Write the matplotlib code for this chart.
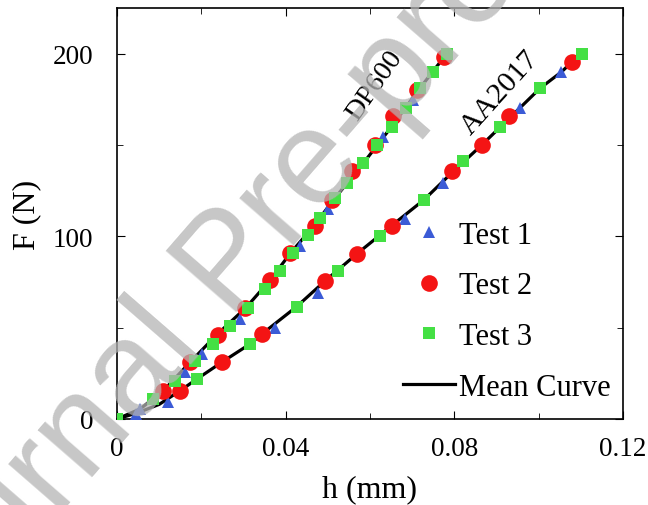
"""
Force-displacement curves (DP600 / AA2017), three tests plus mean curve.
"""
import matplotlib
matplotlib.use("Agg")
import matplotlib.pyplot as plt

# ── Data ────────────────────────────────────────────────────────────────────
# DP600
dp_t1_h = [0.0055, 0.0161, 0.0201, 0.0292, 0.0434, 0.0501, 0.0632, 0.0702]
dp_t1_f = [5.5, 26, 35.5, 54.6, 94.5, 115, 154.6, 174.5]
dp_t2_h = [0.0110, 0.0173, 0.0240, 0.0304, 0.0363, 0.0410, 0.0470, 0.0510,
           0.0557, 0.0612, 0.0655, 0.0712, 0.0776]
dp_t2_f = [15.4, 31, 46, 61, 76, 91, 105.5, 120, 135.5, 150, 166, 180, 198]
dp_t3_h = [0.0, 0.0086, 0.0138, 0.0185, 0.0228, 0.0268, 0.0311, 0.0351, 0.0387,
           0.0418, 0.0454, 0.0481, 0.0517, 0.0545, 0.0584, 0.0616, 0.0651,
           0.0685, 0.0718, 0.0750, 0.0782]
dp_t3_f = [0, 11, 21, 32, 41, 51, 61, 71, 81, 91, 101, 110, 121, 129, 140, 150,
           160, 170, 181, 190, 200]
dp_mean_h = [0, 0.0055, 0.0110, 0.0173, 0.0236, 0.0306, 0.0363, 0.0412, 0.0466,
             0.0517, 0.0584, 0.0651, 0.0718, 0.0782]
dp_mean_f = [0, 5.5, 15.5, 31, 46, 61, 76, 91, 105.5, 121, 140, 160, 181, 200]

# AA2017
aa_t1_h = [0.0045, 0.0122, 0.0375, 0.0477, 0.0683, 0.0774, 0.0956, 0.1054]
aa_t1_f = [3, 9.5, 50, 69, 109.5, 129, 170, 190]
aa_t2_h = [0.0149, 0.0248, 0.0343, 0.0493, 0.0570, 0.0651, 0.0794, 0.0865,
           0.0930, 0.1078]
aa_t2_f = [15.4, 31, 46.4, 75.5, 90.6, 105.8, 136, 150, 165.8, 195.5]
aa_t3_h = [0.0, 0.0189, 0.0315, 0.0426, 0.0525, 0.0624, 0.0728, 0.0821, 0.0908,
           0.1003, 0.1102]
aa_t3_f = [0, 21.8, 41, 61.5, 81, 100.4, 120, 141, 160, 181, 200]
aa_mean_h = [0, 0.005, 0.010, 0.0149, 0.0189, 0.0248, 0.0315, 0.0343, 0.0426,
             0.0493, 0.0570, 0.0651, 0.0728, 0.0795, 0.0865, 0.0932, 0.1003,
             0.1054, 0.1100]
aa_mean_f = [0, 3.5, 8, 15.4, 21.8, 31, 41, 46.4, 61.5, 75.5, 90.6, 105.8, 120,
             135, 150, 165, 181, 190, 200]

x_ticks = [0, 0.04, 0.08, 0.12]
x_tick_labels = ["0", "0.04", "0.08", "0.12"]
y_ticks = [0, 100, 200]

C_T1 = "#3b5bd6"
C_T2 = "#f41414"
C_T3 = "#44e044"

plt.rcParams["font.family"] = ["Liberation Serif", "DejaVu Serif"]

fig = plt.figure(figsize=(6.48, 5.06), dpi=100)
ax = fig.add_axes([117 / 648, 86 / 506, 506 / 648, 411 / 506])

# mean curves first, markers on top
ax.plot(dp_mean_h, dp_mean_f, color="black", lw=2.3, zorder=2, label="Mean Curve")
ax.plot(aa_mean_h, aa_mean_f, color="black", lw=2.3, zorder=2)

mk = dict(ls="none", markeredgewidth=0, zorder=3)
ax.plot(dp_t1_h, dp_t1_f, "^", color=C_T1, ms=9, label="Test 1", **mk)
ax.plot(aa_t1_h, aa_t1_f, "^", color=C_T1, ms=9, **mk)
ax.plot(dp_t2_h, dp_t2_f, "o", color=C_T2, ms=12, label="Test 2", **mk)
ax.plot(aa_t2_h, aa_t2_f, "o", color=C_T2, ms=12, **mk)
ax.plot(dp_t3_h, dp_t3_f, "s", color=C_T3, ms=9, label="Test 3", **mk)
ax.plot(aa_t3_h, aa_t3_f, "s", color=C_T3, ms=9, **mk)

ax.text(0.0610, 183, "DP600", rotation=55, fontsize=20.5, ha="center", va="center")
ax.text(0.0907, 179, "AA2017", rotation=48, fontsize=21.5, ha="center", va="center")

ax.set_xlim(0, 0.12)
ax.set_ylim(0, 225)
ax.set_xticks(x_ticks)
ax.set_xticklabels(x_tick_labels)
ax.set_yticks(y_ticks)
ax.set_xticks([0.02, 0.06, 0.10], minor=True)
ax.set_yticks([50, 150], minor=True)
ax.tick_params(which="both", direction="in", top=True, right=True, labelsize=19.5)
ax.tick_params(axis="x", which="major", length=6, pad=12)
ax.tick_params(axis="y", which="major", length=6, pad=17)
ax.tick_params(which="minor", length=4)
for s in ax.spines.values():
    s.set_linewidth(1.2)

ax.set_xlabel("h (mm)", fontsize=23, labelpad=10)
ax.set_ylabel("F (N)", fontsize=23, labelpad=8)

handles, labels = ax.get_legend_handles_labels()
order = [1, 2, 3, 0]
ax.legend([handles[i] for i in order], [labels[i] for i in order],
          loc="lower right", bbox_to_anchor=(0.975, 0.042), frameon=False,
          fontsize=22, handlelength=1.7, handletextpad=0.13, labelspacing=0.71,
          borderpad=0, borderaxespad=0)

# watermark
fig.text(0.355, 0.475, "Journal Pre-proof", family=["Liberation Sans", "DejaVu Sans"],
         fontsize=97, color="#b4b4b4", alpha=0.75, rotation=49,
         ha="center", va="center", zorder=10)

fig.savefig("out.png", dpi=100)
